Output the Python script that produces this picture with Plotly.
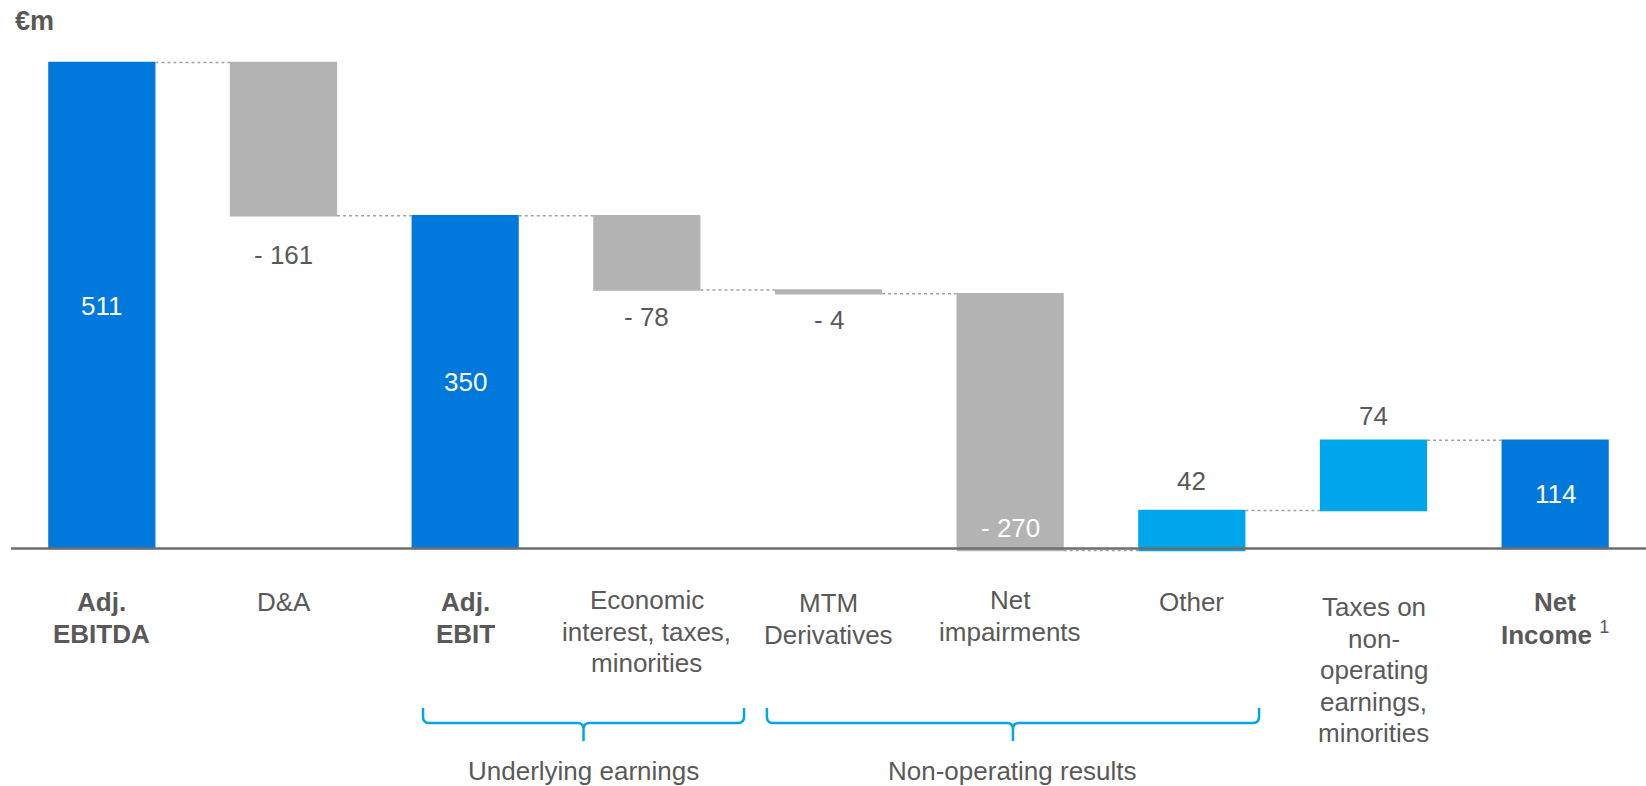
import plotly.graph_objects as go

# ---------------- data ----------------
categories = ["Adj.<br>EBITDA", "D&A", "Adj.<br>EBIT", "Economic<br>interest, taxes,<br>minorities",
              "MTM<br>Derivatives", "Net<br>impairments", "Other",
              "Taxes on<br>non-<br>operating<br>earnings,<br>minorities", "Net<br>Income"]
bold_categories = [True, False, True, False, False, False, False, False, True]
measures = ["absolute", "relative", "total", "relative", "relative", "relative", "relative", "relative", "total"]
values = [511, -161, 350, -78, -4, -270, 42, 74, 114]
groups = ["Underlying earnings", "Non-operating results"]
unit_label = "€m"
footnote_mark = "1"

# ---------------- style ----------------
W, H = 1646, 786
ML, MR, MT, MB = 11, 0, 35, 226
Y_RANGE = [-12, 540]
FONT = "Liberation Sans, Arial, sans-serif"
FS = 26
TXT = "#595959"
C_TOTAL = "#0078DC"
C_DEC = "#B3B3B3"
C_INC = "#00A6EC"
C_BRACKET = "#00A6EC"

label_mode = ["mid", "below", "mid", "below", "below", "insidebottom", "above", "above", "mid"]
label_off = [0, 39, 0, 27, 26, 22, 30, 24, 0]
cat_first_line = [602, 602, 602, 600, 603, 600, 602, 607, 602]
LINE_STEP = 31.5
# group bracket spans (in category-index units)
group_spans = [(1.768, 3.535), (3.661, 6.370)]

plot_h = H - MT - MB
n = len(categories)
x_idx = list(range(n))


def xp(i):
    return (i + 0.5) / n


def yp(py):
    return (H - MB - py) / plot_h


fig = go.Figure()
fig.add_trace(go.Waterfall(
    x=x_idx, y=values, measure=measures,
    increasing=dict(marker=dict(color=C_INC)),
    decreasing=dict(marker=dict(color=C_DEC)),
    totals=dict(marker=dict(color=C_TOTAL)),
    connector=dict(mode="between", line=dict(color="#A0A0A0", width=1.5, dash="dot")),
    textinfo="none", hoverinfo="skip",
))

# compute bar extents
starts, ends = [], []
run = 0
for m, v in zip(measures, values):
    if m == "absolute":
        s, e = 0, v
        run = v
    elif m == "total":
        s, e = 0, run
    else:
        s, e = run, run + v
        run = run + v
    starts.append(s)
    ends.append(e)

annotations = []
for i, (m, v) in enumerate(zip(measures, values)):
    txt = f"- {abs(v)}" if (m == "relative" and v < 0) else f"{v if m != 'total' else ends[i]}"
    lo, hi = min(starts[i], ends[i]), max(starts[i], ends[i])
    mode = label_mode[i]
    if mode == "mid":
        y, ys, col = (lo + hi) / 2, 0, "white"
    elif mode == "below":
        y, ys, col = lo, -label_off[i], TXT
    elif mode == "above":
        y, ys, col = hi, label_off[i], TXT
    else:
        y, ys, col = lo, label_off[i], "white"
    annotations.append(dict(x=i, y=y, xref="x", yref="y", text=txt, showarrow=False,
                            yshift=ys, yanchor="middle", xanchor="center",
                            font=dict(family=FONT, size=FS, color=col)))

for i, c in enumerate(categories):
    lines = c.split("<br>")
    for k, ln in enumerate(lines):
        t = f"<b>{ln}</b>" if bold_categories[i] else ln
        if i == n - 1 and k == len(lines) - 1:
            t += f" <sup>{footnote_mark}</sup>"
        annotations.append(dict(x=i, xref="x", y=yp(cat_first_line[i] + k * LINE_STEP), yref="paper",
                                text=t, showarrow=False, xanchor="center", yanchor="middle",
                                font=dict(family=FONT, size=FS, color=TXT)))

shapes = []
y_top, y_h, y_bot = yp(708), yp(723), yp(741)
r = 0.012
for (a, b), g in zip(group_spans, groups):
    x0, x1 = xp(a), xp(b)
    xc = (x0 + x1) / 2
    rx = r * 0.3
    path = (f"M {x0},{y_top} L {x0},{y_h + r} Q {x0},{y_h} {x0 + rx},{y_h} "
            f"L {xc - rx},{y_h} Q {xc},{y_h} {xc},{y_h - r} L {xc},{y_bot} "
            f"M {xc},{y_h - r} Q {xc},{y_h} {xc + rx},{y_h} "
            f"L {x1 - rx},{y_h} Q {x1},{y_h} {x1},{y_h + r} L {x1},{y_top}")
    shapes.append(dict(type="path", path=path, xref="paper", yref="paper",
                       line=dict(color=C_BRACKET, width=2.5)))
    annotations.append(dict(x=xc, y=yp(771), xref="paper", yref="paper", text=g, showarrow=False,
                            xanchor="center", yanchor="middle",
                            font=dict(family=FONT, size=FS, color=TXT)))

# baseline
shapes.append(dict(type="line", xref="paper", x0=0, x1=1, yref="y", y0=0, y1=0,
                   line=dict(color="#6E6E6E", width=2.5), layer="above"))

annotations.append(dict(x=(13 - ML) / (W - ML - MR), y=yp(21), xref="paper", yref="paper",
                        text=f"<b>{unit_label}</b>", showarrow=False, xanchor="left", yanchor="middle",
                        font=dict(family=FONT, size=27, color=TXT)))

fig.update_layout(
    width=W, height=H, margin=dict(l=ML, r=MR, t=MT, b=MB),
    plot_bgcolor="white", paper_bgcolor="white",
    waterfallgap=0.41, showlegend=False,
    xaxis=dict(range=[-0.5, n - 0.5], visible=False, showgrid=False, zeroline=False),
    yaxis=dict(range=Y_RANGE, visible=False, showgrid=False, zeroline=False),
    annotations=annotations, shapes=shapes,
    font=dict(family=FONT, color=TXT),
)

fig.write_html("out.html", config={"displayModeBar": False},
               post_script="document.body.style.margin='0';document.body.style.overflow='hidden';")
